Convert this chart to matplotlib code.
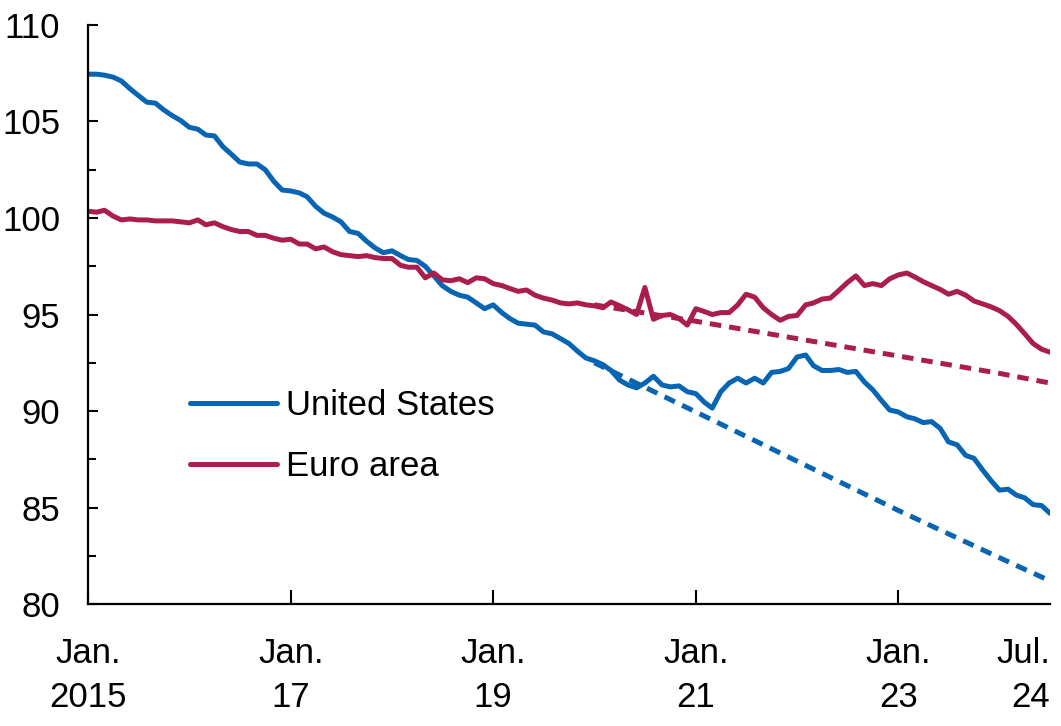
import matplotlib
matplotlib.use("Agg")
import matplotlib.pyplot as plt
import numpy as np
import pandas as pd

plt.rcParams['font.family'] = ['Liberation Sans', 'DejaVu Sans']

# monthly index
months = pd.date_range('2015-01-01', periods=115, freq='MS')

us = [107.45, 107.45, 107.4, 107.3, 107.1, 106.7, 106.35, 106.0, 105.95, 105.6,
      105.3, 105.05, 104.7, 104.6, 104.3, 104.25, 103.7, 103.3, 102.9, 102.8,
      102.8, 102.5, 101.9, 101.45, 101.4, 101.3, 101.1, 100.6, 100.25, 100.05,
      99.8, 99.3, 99.2, 98.8, 98.45, 98.2, 98.3, 98.05, 97.85, 97.8,
      97.5, 97.0, 96.5, 96.2, 96.0, 95.9, 95.6, 95.3, 95.5, 95.1,
      94.8, 94.55, 94.5, 94.45, 94.1, 94.0, 93.75, 93.5, 93.1, 92.75,
      92.6, 92.4, 92.1, 91.6, 91.35, 91.2, 91.45, 91.8, 91.35, 91.25,
      91.3, 91.0, 90.9, 90.45, 90.15, 91.0, 91.45, 91.7, 91.45, 91.7,
      91.45, 92.0, 92.05, 92.2, 92.8, 92.9, 92.35, 92.1, 92.1, 92.15,
      92.0, 92.05, 91.5, 91.1, 90.55, 90.05, 89.95, 89.7, 89.6, 89.4,
      89.45, 89.1, 88.4, 88.25, 87.7, 87.55, 86.95, 86.4, 85.9, 85.95,
      85.65, 85.5, 85.15, 85.1, 84.7]

euro = [100.35, 100.3, 100.4, 100.1, 99.9, 99.95, 99.9, 99.9, 99.85, 99.85,
        99.85, 99.8, 99.75, 99.9, 99.65, 99.75, 99.55, 99.4, 99.3, 99.3,
        99.1, 99.1, 98.95, 98.85, 98.9, 98.65, 98.65, 98.4, 98.5, 98.25,
        98.1, 98.05, 98.0, 98.05, 97.95, 97.9, 97.9, 97.55, 97.45, 97.45,
        96.9, 97.15, 96.8, 96.75, 96.85, 96.65, 96.9, 96.85, 96.6, 96.5,
        96.35, 96.2, 96.27, 96.0, 95.85, 95.75, 95.6, 95.55, 95.6, 95.5,
        95.45, 95.35, 95.65, 95.45, 95.25, 95.0, 96.4, 94.75, 94.95, 95.0,
        94.8, 94.45, 95.3, 95.15, 95.0, 95.1, 95.1, 95.5, 96.05, 95.9,
        95.35, 95.0, 94.7, 94.9, 94.95, 95.5, 95.6, 95.8, 95.85, 96.25,
        96.65, 97.0, 96.5, 96.6, 96.5, 96.85, 97.05, 97.15, 96.95, 96.7,
        96.5, 96.3, 96.05, 96.2, 96.0, 95.7, 95.55, 95.4, 95.2, 94.9,
        94.5, 94.0, 93.5, 93.2, 93.05]

trend_dates = pd.to_datetime(['2020-01-01', '2021-01-01', '2022-01-01',
                              '2023-01-01', '2024-01-01', '2024-07-01'])
us_trend = [92.5, 89.95, 87.4, 84.85, 82.4, 81.2]
euro_trend = [95.5, 94.65, 93.75, 92.85, 91.95, 91.45]

blue = '#0765b3'
red = '#ab1e4c'

fig = plt.figure(figsize=(10.61, 7.26), dpi=100)
ax = fig.add_axes([0.083, 0.168, 0.9066, 0.7976])

ax.plot(months, us, color=blue, lw=3.6, label='United States', solid_capstyle='round')
ax.plot(months, euro, color=red, lw=3.6, label='Euro area', solid_capstyle='round')
ax.plot(trend_dates, us_trend, color=blue, lw=3.6, dashes=(2.3, 1.6))
ax.plot(trend_dates, euro_trend, color=red, lw=3.6, dashes=(2.3, 1.6))

ax.set_ylim(80, 110)
ax.set_xlim(months[0], months[-1])
ax.set_yticks(np.arange(80, 111, 5))
ax.set_yticks(np.arange(82.5, 110, 5), minor=True)

xt = pd.to_datetime(['2015-01-01', '2017-01-01', '2019-01-01',
                     '2021-01-01', '2023-01-01', '2024-07-01'])
xlabels = ['Jan.\n2015', 'Jan.\n17', 'Jan.\n19', 'Jan.\n21', 'Jan.\n23', 'Jul.\n24']
ax.set_xticks(xt)
ax.set_xticklabels(xlabels, fontsize=25, linespacing=1.42)
ax.xaxis.get_major_ticks()[-1].tick1line.set_visible(False)
last = ax.get_xticklabels()[-1]
last.set_horizontalalignment('right')
last.set_multialignment('right')

ax.tick_params(axis='y', which='major', direction='in', length=7.5, width=1.5,
               labelsize=25, pad=20)
ax.tick_params(axis='y', which='minor', direction='in', length=5.5, width=1.5)
ax.tick_params(axis='x', direction='in', length=10, width=1.5, pad=24)

for s in ['top', 'right']:
    ax.spines[s].set_visible(False)
for s in ['left', 'bottom']:
    ax.spines[s].set_linewidth(1.6)

ax.legend(loc='center left', bbox_to_anchor=(0.106, 0.29), frameon=False,
          fontsize=25, handlelength=2.5, handletextpad=0.25, labelspacing=0.8,
          borderpad=0, borderaxespad=0)

plt.savefig('out.png', dpi=100)
